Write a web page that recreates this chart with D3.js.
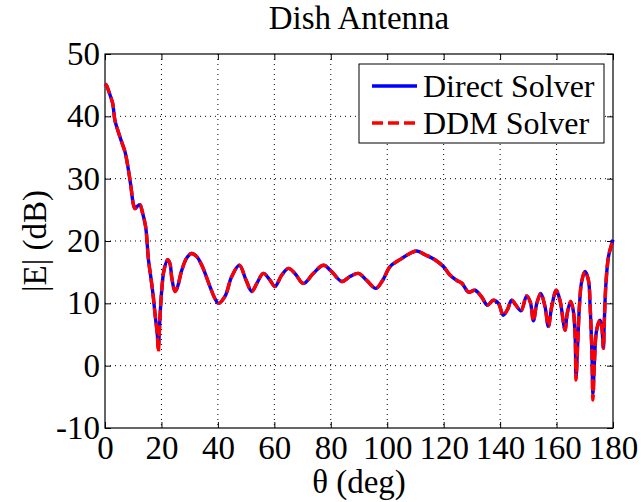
<!DOCTYPE html>
<html>
<head>
<meta charset="utf-8">
<script src="https://cdnjs.cloudflare.com/ajax/libs/d3/7.8.5/d3.min.js"></script>
<style>
    body { margin: 0; background: #fff; }
    text { font-family: "Liberation Serif", "Times New Roman", serif; fill: #000; }
    .grid line { stroke: #000; stroke-width: 1; stroke-dasharray: 1,4; }
</style>
</head>
<body>
<div id="chart"></div>
<script>
// angles (deg)
var theta = [0, 0.5, 1.5, 2.7, 3.5, 4.5, 5.9, 7.1, 8.3, 9.2, 10, 10.6, 11.5, 12.4, 13.2, 14.4, 15.4, 16.3, 17.1, 17.7,
    18.5, 18.9, 19.5, 20.1, 20.9, 22.2, 23.0, 23.7, 24.8, 25.6, 27.2, 29, 30.7, 32.5, 34.3, 37.2, 38.8, 40.2, 42.5, 44.9,
    47.6, 50, 52, 53.8, 56.1, 58.5, 60.2, 62.6, 65, 67.3, 70.3, 73.8, 77.4, 80.3, 83.9, 86.8, 89.8, 92.7, 96, 98.4,
    101, 104.5, 108, 110.5, 113.4, 116.9, 119.9, 122.3, 124.6, 126.5, 128.8, 131.1, 133.5, 135.5, 137.6, 139.4, 141.1, 142.6, 144.1, 145.6,
    147.4, 149.4, 150.7, 151.8, 153, 154.4, 155.9, 157.1, 158.3, 159.9, 161.3, 162.4, 163, 163.8, 165, 165.9, 166.6, 166.9, 167.5, 168.1,
    168.9, 170.1, 171.3, 171.9, 172.5, 172.9, 173.4, 174.2, 175.4, 176, 176.6, 176.9, 177.5, 178.4, 179.6, 180];

var directDb = [45.2, 45.0, 43.8, 42.1, 39.4, 37.8, 35.9, 34.3, 31.4, 28.7, 26.0, 25.2, 25.6, 25.8, 24.7, 22.3, 17.0, 14.0, 11.1, 8.4,
    5.2, 3.0, 7.9, 12.1, 15.3, 17.0, 16.4, 14.0, 11.9, 12.5, 15.3, 17.3, 18.0, 17.5, 16.1, 12.7, 10.9, 10.0, 11.1, 14.3,
    16.1, 13.7, 11.9, 13.2, 14.8, 13.7, 12.7, 14.5, 15.6, 14.8, 13.2, 14.8, 16.1, 15.1, 13.5, 14.3, 14.8, 13.7, 12.4, 13.7,
    15.9, 17.0, 18.0, 18.4, 17.8, 17.0, 15.9, 14.5, 13.7, 13.2, 11.8, 12.1, 11.0, 9.7, 10.5, 10.0, 8.1, 9.0, 10.5, 9.7,
    8.8, 11.2, 10.2, 7.2, 10.0, 11.6, 9.5, 6.3, 9.5, 12.1, 10.3, 7.0, 5.7, 8.4, 10.3, 8.9, 4.6, -1.8, 3.6, 9.5,
    13.5, 15.1, 13.7, 9.5, 2.5, -4.5, 0.4, 5.7, 7.3, 6.3, 2.8, 6.8, 13.2, 17.5, 19.6, 20.2];

var ddmDb = [45.2, 45.0, 43.8, 42.1, 39.4, 37.8, 35.9, 34.3, 31.4, 28.7, 26.0, 25.2, 25.6, 25.8, 24.7, 22.3, 17.0, 14.0, 11.1, 8.4,
    5.2, 2.2, 7.9, 12.1, 15.3, 17.0, 16.4, 14.0, 11.9, 12.5, 15.3, 17.3, 18.0, 17.5, 16.1, 12.7, 10.9, 10.0, 11.1, 14.3,
    16.1, 13.7, 11.9, 13.2, 14.8, 13.7, 12.7, 14.5, 15.6, 14.8, 13.2, 14.8, 16.1, 15.1, 13.5, 14.3, 14.8, 13.7, 12.4, 13.7,
    15.9, 17.0, 18.0, 18.4, 17.8, 17.0, 15.9, 14.5, 13.7, 13.2, 11.8, 12.1, 11.0, 9.7, 10.5, 10.0, 8.1, 9.0, 10.5, 9.7,
    8.8, 11.2, 10.2, 7.2, 10.0, 11.6, 9.5, 6.3, 9.5, 12.1, 10.3, 7.0, 5.7, 8.4, 10.3, 8.9, 4.6, -2.3, 3.6, 9.5,
    13.5, 15.1, 13.7, 9.5, 2.5, -5.5, 0.4, 5.7, 7.3, 6.3, 2.8, 6.8, 13.2, 17.5, 19.6, 20.2];

var xTicks = [0, 20, 40, 60, 80, 100, 120, 140, 160, 180];
var yTicks = [-10, 0, 10, 20, 30, 40, 50];
var seriesNames = ["Direct Solver", "DDM Solver"];

var width = 641, height = 502;
var margin = {top: 54, right: 28, bottom: 74, left: 105};
var plotW = width - margin.left - margin.right,
    plotH = height - margin.top - margin.bottom;
var fontSize = "33px";

var svg = d3.select("#chart").append("svg")
    .attr("width", width)
    .attr("height", height);

var x = d3.scaleLinear().domain([0, 180]).range([0, plotW]);
var y = d3.scaleLinear().domain([-10, 50]).range([plotH, 0]);

var g = svg.append("g")
    .attr("transform", "translate(" + margin.left + "," + margin.top + ")");

// dotted grid
var grid = g.append("g").attr("class", "grid");
grid.selectAll(".vx")
    .data(xTicks.slice(1, -1))
    .enter().append("line")
    .attr("x1", function(d) { return x(d); })
    .attr("x2", function(d) { return x(d); })
    .attr("y1", 0)
    .attr("y2", plotH);
grid.selectAll(".hy")
    .data(yTicks.slice(1, -1))
    .enter().append("line")
    .attr("y1", function(d) { return y(d); })
    .attr("y2", function(d) { return y(d); })
    .attr("x1", 0)
    .attr("x2", plotW);

// plain hyphen for negatives, like matlab
var tickFmt = function(d) { return String(d); };

// axes, ticks inward like matlab
function styleAxis(sel, showText) {
    sel.select(".domain").remove();
    sel.selectAll(".tick line").attr("stroke", "#000").attr("stroke-width", 1);
    sel.selectAll(".tick text")
        .attr("font-family", "Liberation Serif")
        .style("font-size", fontSize);
    if (!showText) sel.selectAll(".tick text").remove();
}

g.append("g")
    .attr("transform", "translate(0," + plotH + ")")
    .call(d3.axisBottom(x).tickValues(xTicks).tickSize(-6).tickPadding(8).tickFormat(tickFmt))
    .call(styleAxis, true);
g.append("g")
    .call(d3.axisTop(x).tickValues(xTicks).tickSize(-6))
    .call(styleAxis, false);
g.append("g")
    .call(d3.axisLeft(y).tickValues(yTicks).tickSize(-6).tickPadding(5).tickFormat(tickFmt))
    .call(styleAxis, true);
g.append("g")
    .attr("transform", "translate(" + plotW + ",0)")
    .call(d3.axisRight(y).tickValues(yTicks).tickSize(-6))
    .call(styleAxis, false);

// box
g.append("rect")
    .attr("width", plotW)
    .attr("height", plotH)
    .attr("fill", "none")
    .attr("stroke", "#000")
    .attr("stroke-width", 1.2);

// curves
var line = d3.line()
    .x(function(d) { return x(d[0]); })
    .y(function(d) { return y(d[1]); })
    .curve(d3.curveCatmullRom.alpha(0.5));

g.append("path")
    .datum(d3.zip(theta, directDb))
    .attr("d", line)
    .attr("fill", "none")
    .attr("stroke", "#0000ff")
    .attr("stroke-width", 3.4);

g.append("path")
    .datum(d3.zip(theta, ddmDb))
    .attr("d", line)
    .attr("fill", "none")
    .attr("stroke", "#ff0000")
    .attr("stroke-width", 3.4)
    .attr("stroke-dasharray", "11,4");

// legend
var legend = g.append("g")
    .attr("transform", "translate(" + (plotW - 254) + ",10)");

legend.append("rect")
    .attr("width", 245)
    .attr("height", 79)
    .attr("fill", "#fff")
    .attr("stroke", "#000")
    .attr("stroke-width", 1);

var legendItem = legend.selectAll(".legend")
    .data(seriesNames)
    .enter().append("g")
    .attr("class", "legend")
    .attr("transform", function(d, i) { return "translate(0," + (22 + 37 * i) + ")"; });

legendItem.append("line")
    .attr("x1", 13)
    .attr("x2", 58)
    .attr("stroke", function(d, i) { return i == 0 ? "#0000ff" : "#ff0000"; })
    .attr("stroke-width", 3.4)
    .attr("stroke-dasharray", function(d, i) { return i == 0 ? null : "11,5"; });

legendItem.append("text")
    .attr("x", 64)
    .attr("y", 11)
    .style("font-size", "32px")
    .text(function(d) { return d; });

// titles
svg.append("text")
    .attr("x", margin.left + plotW / 2)
    .attr("y", 29)
    .attr("text-anchor", "middle")
    .style("font-size", fontSize)
    .text("Dish Antenna");

svg.append("text")
    .attr("x", margin.left + plotW / 2)
    .attr("y", 493)
    .attr("text-anchor", "middle")
    .style("font-size", fontSize)
    .text("θ (deg)");

svg.append("text")
    .attr("transform", "translate(46," + (margin.top + plotH / 2) + ") rotate(-90)")
    .attr("text-anchor", "middle")
    .style("font-size", fontSize)
    .text("|E| (dB)");
</script>
</body>
</html>
